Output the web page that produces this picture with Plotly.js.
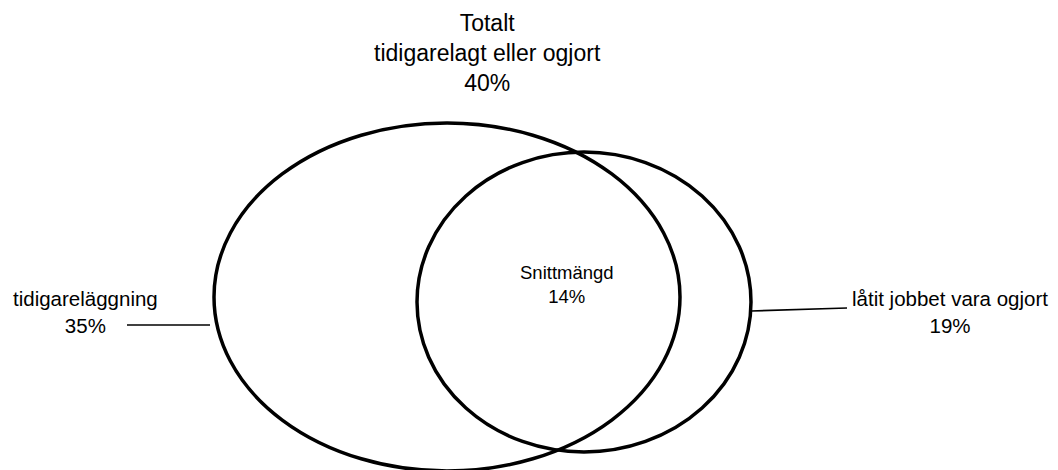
<!DOCTYPE html>
<html><head><meta charset="utf-8">
<script src="https://cdn.plot.ly/plotly-3.0.1.min.js"></script>
<style>html,body{margin:0;padding:0;background:#fff}#chart{width:1058px;height:470px}</style>
</head><body><div id="chart"></div>
<script>
// ---- data ----
const setLabels = ['tidigareläggning', 'låtit jobbet vara ogjort'];
const setValues = [35, 19];
const intersectionLabel = 'Snittmängd';
const intersectionValue = 14;
const totalLabels = ['Totalt', 'tidigarelagt eller ogjort'];
const totalValue = 40;

// ---- layout geometry (pixel-like coordinate space) ----
const W = 1058, H = 470;
const ellipseGeom = [
  {cx: 447, cy: 297, rx: 233, ry: 174},
  {cx: 584, cy: 302, rx: 167, ry: 150}
];
const leaderLines = [
  {x0: 127, y0: 325, x1: 210, y1: 325},
  {x0: 751, y0: 311, x1: 847, y1: 308}
];
const labelPos = {
  total: {x: 487, y: 53, size: 23},
  sets: [{x: 85, y: 312, size: 20.5}, {x: 950, y: 312, size: 20.5}],
  inter: {x: 567, y: 284, size: 18.5}
};
const FONT = 'Liberation Sans, Arial, sans-serif';

const shapes = ellipseGeom.map(e => ({
  type: 'circle', xref: 'x', yref: 'y',
  x0: e.cx - e.rx, x1: e.cx + e.rx, y0: e.cy - e.ry, y1: e.cy + e.ry,
  line: {color: '#000', width: 3.5}, fillcolor: 'rgba(0,0,0,0)'
})).concat(leaderLines.map(l => ({
  type: 'line', xref: 'x', yref: 'y', x0: l.x0, y0: l.y0, x1: l.x1, y1: l.y1,
  line: {color: '#000', width: 1.6}
})));

const annotations = [
  {x: labelPos.total.x, y: labelPos.total.y,
   text: totalLabels.join('<br>') + '<br>' + totalValue + '%', size: labelPos.total.size},
  {x: labelPos.sets[0].x, y: labelPos.sets[0].y,
   text: setLabels[0] + '<br>' + setValues[0] + '%', size: labelPos.sets[0].size},
  {x: labelPos.sets[1].x, y: labelPos.sets[1].y,
   text: setLabels[1] + '<br>' + setValues[1] + '%', size: labelPos.sets[1].size},
  {x: labelPos.inter.x, y: labelPos.inter.y,
   text: intersectionLabel + '<br>' + intersectionValue + '%', size: labelPos.inter.size}
].map(a => ({
  x: a.x, y: a.y, xref: 'x', yref: 'y', text: a.text, showarrow: false,
  xanchor: 'center', yanchor: 'middle', align: 'center',
  font: {family: FONT, size: a.size, color: '#000'}
}));

Plotly.newPlot('chart', [], {
  width: W, height: H,
  margin: {l: 0, r: 0, t: 0, b: 0},
  paper_bgcolor: '#fff', plot_bgcolor: '#fff',
  xaxis: {range: [0, W], visible: false, fixedrange: true},
  yaxis: {range: [H, 0], visible: false, fixedrange: true},
  shapes: shapes, annotations: annotations, showlegend: false
}, {displayModeBar: false, staticPlot: true});
</script>
</body></html>
